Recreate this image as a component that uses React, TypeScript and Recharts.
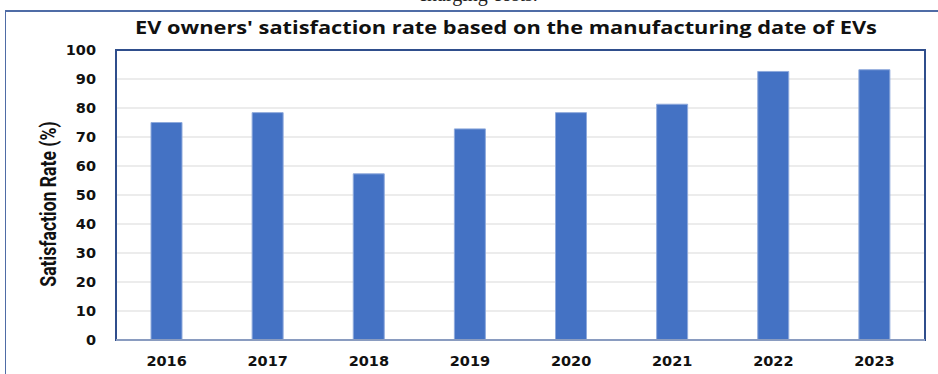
import React from "react";
import { BarChart, Bar, XAxis, YAxis, CartesianGrid, ReferenceArea } from "recharts";

const years = ["2016", "2017", "2018", "2019", "2020", "2021", "2022", "2023"];
const satisfaction = [75, 78.4, 57.3, 72.8, 78.4, 81.3, 92.6, 93.2];
const yTicks = [0, 10, 20, 30, 40, 50, 60, 70, 80, 90, 100];

const data = years.map((y, i) => ({ year: y, rate: satisfaction[i] }));

const tickFont = { fontFamily: "DejaVu Sans", fontWeight: 700, fontSize: 14.5, fill: "#111" };

export default function App() {
  return (
    <div style={{ position: "fixed", left: 0, top: 0, width: 938, height: 374, overflow: "hidden", background: "#fff" }}>
      <div
        style={{
          position: "absolute",
          left: 0,
          width: 956,
          top: -17,
          textAlign: "center",
          fontFamily: "Liberation Serif",
          fontSize: 20,
          color: "#222",
        }}
      >
        charging costs.
      </div>
      <div
        style={{
          position: "absolute",
          left: 5,
          top: 10,
          width: 940,
          height: 380,
          borderTop: "2px solid #4f6ca6",
          borderLeft: "1.5px solid #4f6ca6",
        }}
      />
      <div
        style={{
          position: "absolute",
          left: 0,
          width: 1012,
          top: 15,
          textAlign: "center",
          fontFamily: "Open Sans",
          fontWeight: 700,
          fontSize: 18,
          color: "#111",
          transform: "scaleX(1.21)",
          transformOrigin: "506px 0",
        }}
      >
        EV owners' satisfaction rate based on the manufacturing date of EVs
      </div>
      <div style={{ position: "absolute", left: 0, top: 0 }}>
        <BarChart width={938} height={374} data={data} margin={{ top: 50, right: 13, left: 0, bottom: 0 }}>
          <CartesianGrid vertical={false} stroke="#d9d9d9" />
          <ReferenceArea y1={0} y2={100} fill="none" stroke="#2f4e8c" strokeWidth={2} ifOverflow="visible" />
          <XAxis
            dataKey="year"
            height={34}
            tickLine={false}
            axisLine={{ stroke: "#8a9cc0", strokeWidth: 2 }}
            tick={tickFont}
            tickMargin={10}
          />
          <YAxis
            width={116}
            domain={[0, 100]}
            ticks={yTicks}
            interval={0}
            tickLine={false}
            axisLine={false}
            tick={tickFont}
            tickMargin={14}
            label={{
              content: () => (
                <text
                  x={0}
                  y={0}
                  transform="translate(49 204) rotate(-90) scale(0.8 1)"
                  textAnchor="middle"
                  dominantBaseline="central"
                  style={{ fontFamily: "Roboto", fontWeight: 700, fontSize: 22, fill: "#111" }}
                >
                  Satisfaction Rate (%)
                </text>
              ),
            }}
          />
          <Bar dataKey="rate" fill="#4472c4" stroke="#8faadc" strokeWidth={1} barSize={31} isAnimationActive={false} />
        </BarChart>
      </div>
    </div>
  );
}
